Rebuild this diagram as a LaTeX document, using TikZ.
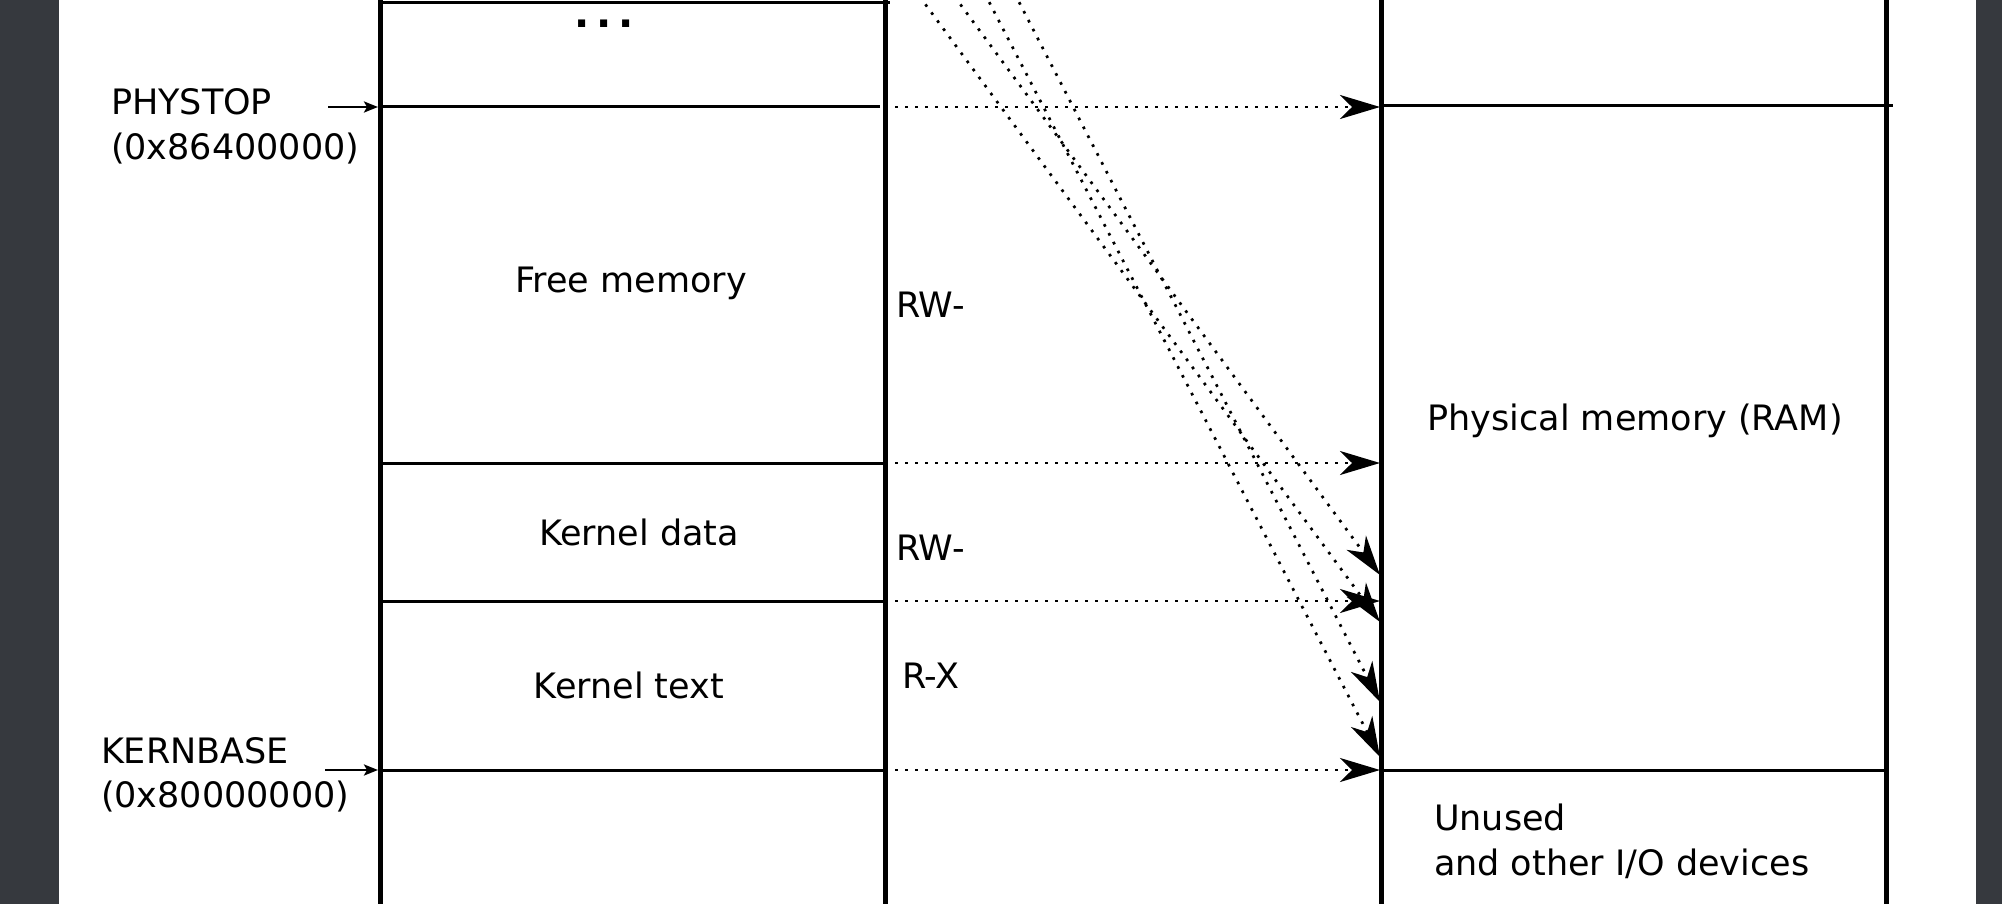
\documentclass[tikz,border=0pt]{standalone}
\usepackage{fontspec}
\setmainfont{DejaVu Sans}
\usetikzlibrary{arrows.meta}
\definecolor{framegrey}{RGB}{54,57,62}
\begin{document}
\begin{tikzpicture}[x=0.5pt,y=-0.5pt,
  every node/.style={font=\fontsize{17.5pt}{22pt}\selectfont, inner sep=0pt, outer sep=0pt},
  vline/.style={line width=2.5pt},
  hline/.style={line width=1.5pt},
  maparrow/.style={line width=1.35pt, dash pattern=on 1.35pt off 3.65pt,
    -{Stealth[length=20pt,width=12pt,inset=6pt]}},
  ptrarrow/.style={line width=1.25pt, -{Stealth[length=7pt,width=5.5pt,inset=1.5pt]}}
]
\path[use as bounding box] (0,0) rectangle (2002,904);
\clip (0,0) rectangle (2002,904);
\fill[white] (0,0) rectangle (2002,904);
\fill[framegrey] (0,0) rectangle (59,904);
\fill[framegrey] (1976,0) rectangle (2002,904);

% columns
\coordinate (vL1t) at (380,-10); \coordinate (vL1b) at (380,914);
\coordinate (vL2t) at (885,-10); \coordinate (vL2b) at (885,914);
\coordinate (vP1t) at (1381,-10); \coordinate (vP1b) at (1381,914);
\coordinate (vP2t) at (1886,-10); \coordinate (vP2b) at (1886,914);
\draw[vline] (vL1t) -- (vL1b);
\draw[vline] (vL2t) -- (vL2b);
\draw[vline] (vP1t) -- (vP1b);
\draw[vline] (vP2t) -- (vP2b);

% virtual horizontal lines
\coordinate (topA) at (380,3); \coordinate (topB) at (890,3);
\coordinate (phyA) at (380,107); \coordinate (phyB) at (880,107);
\coordinate (freeA) at (380,463); \coordinate (freeB) at (885,463);
\coordinate (kdA) at (380,601); \coordinate (kdB) at (885,601);
\coordinate (kbA) at (380,770); \coordinate (kbB) at (885,770);
\draw[hline] (topA) -- (topB);
\draw[hline] (phyA) -- (phyB);
\draw[hline] (freeA) -- (freeB);
\draw[hline] (kdA) -- (kdB);
\draw[hline] (kbA) -- (kbB);

% physical horizontal lines
\coordinate (pPhyA) at (1381,106); \coordinate (pPhyB) at (1893,106);
\coordinate (pKbA) at (1381,770); \coordinate (pKbB) at (1886,770);
\draw[hline] (pPhyA) -- (pPhyB);
\draw[hline] (pKbA) -- (pKbB);

% horizontal mappings
\coordinate (m1s) at (895,107); \coordinate (m1e) at (1380,107);
\coordinate (m2s) at (895,463); \coordinate (m2e) at (1380,463);
\coordinate (m3s) at (895,601); \coordinate (m3e) at (1380,601);
\coordinate (m4s) at (895,770); \coordinate (m4e) at (1380,770);
\draw[maparrow] (m1s) -- (m1e);
\draw[maparrow] (m2s) -- (m2e);
\draw[maparrow] (m3s) -- (m3e);
\draw[maparrow] (m4s) -- (m4e);

% diagonal mappings from above
\coordinate (d1s) at (878,-60); \coordinate (d1e) at (1380,622);
\coordinate (d2s) at (913,-60); \coordinate (d2e) at (1380,575);
\coordinate (d3s) at (957,-60); \coordinate (d3e) at (1380,757);
\coordinate (d4s) at (987,-60); \coordinate (d4e) at (1380,702);
\draw[maparrow] (d1s) -- (d1e);
\draw[maparrow] (d2s) -- (d2e);
\draw[maparrow] (d3s) -- (d3e);
\draw[maparrow] (d4s) -- (d4e);

% labels on the left
\node[anchor=base west] (phystop) at (111,115) {PHYSTOP};
\node[anchor=base west] (phystopaddr) at (111,159) {(0x86400000)};
\node[anchor=base west] (kernbase) at (101,763) {KERNBASE};
\node[anchor=base west] (kernbaseaddr) at (101,807) {(0x80000000)};
\coordinate (pa1) at (328,107); \coordinate (pa2) at (378,107);
\coordinate (ka1) at (325,770); \coordinate (ka2) at (378,770);
\draw[ptrarrow] (pa1) -- (pa2);
\draw[ptrarrow] (ka1) -- (ka2);

% region labels
\node[anchor=base] (dots) at (604,28) {\fontsize{20pt}{22pt}\selectfont\bfseries .\hspace{3.4pt}.\hspace{3.4pt}.};
\node[anchor=base] (freemem) at (631,292) {Free memory};
\node[anchor=base] (kdata) at (639,545) {Kernel data};
\node[anchor=base] (ktext) at (629,698) {Kernel text};

% permissions
\node[anchor=base west] (perm1) at (896,317) {RW-};
\node[anchor=base west] (perm2) at (896,560) {RW-};
\node[anchor=base west] (perm3) at (902,688) {R-X};

% physical labels
\node[anchor=base] (ram) at (1635,430) {Physical memory (RAM)};
\node[anchor=base west] (unused1) at (1434,830) {Unused};
\node[anchor=base west] (unused2) at (1434,875) {and other I/O devices};
\end{tikzpicture}
\end{document}
